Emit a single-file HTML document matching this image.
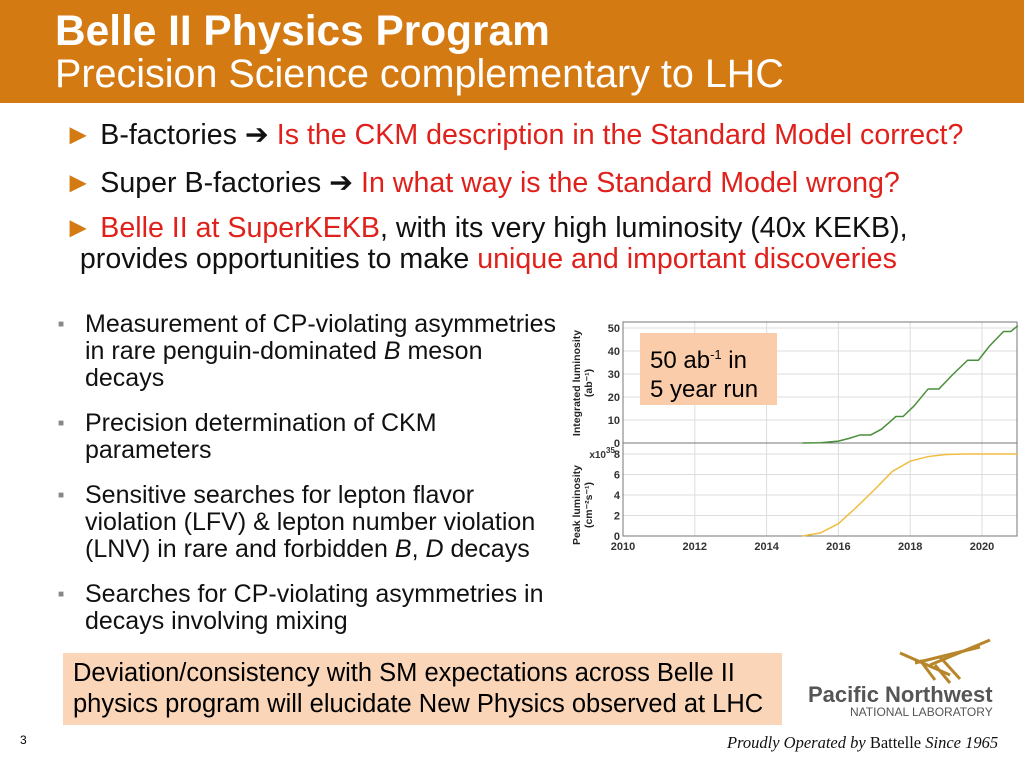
<!DOCTYPE html>
<html><head><meta charset="utf-8"><style>
body{margin:0;width:1024px;height:768px;position:relative;overflow:hidden;background:#fff;font-family:"Liberation Sans",sans-serif}
.abs{position:absolute}
.red{color:#e0201b}
.sb{position:absolute;left:58px;font-size:25px;color:#111;line-height:27px;width:540px;padding-left:27px;box-sizing:border-box;white-space:nowrap}
.sq{position:absolute;left:0;top:0;font-size:10px;color:#888}
</style></head><body>
<div class="abs" style="left:0;top:0;width:1024px;height:103px;background:#d47a12"></div>
<div class="abs" style="left:55px;top:7px;color:#fff;font-weight:bold;font-size:42.4px">Belle II Physics Program</div>
<div class="abs" style="left:55px;top:52px;color:#fff;font-size:39.5px">Precision Science complementary to LHC</div>
<div class="abs" style="left:64px;top:117px;font-size:28.6px;color:#111;white-space:nowrap"><span style="color:#d47a12">►</span> B-factories ➔ <span class="red">Is the CKM description in the Standard Model correct?</span></div>
<div class="abs" style="left:64px;top:165px;font-size:28.6px;color:#111;white-space:nowrap"><span style="color:#d47a12">►</span> Super B-factories ➔ <span class="red">In what way is the Standard Model wrong?</span></div>
<div class="abs" style="left:64px;top:213px;font-size:28.6px;color:#111;line-height:31px;white-space:nowrap"><span style="color:#d47a12">►</span> <span class="red">Belle II at SuperKEKB</span>, with its very high luminosity (40x KEKB),<br>&nbsp;&nbsp;provides opportunities to make <span class="red">unique and important discoveries</span></div>
<div class="sb" style="top:311px"><span class="sq">■</span>Measurement of CP-violating asymmetries<br>in rare penguin-dominated <i>B</i> meson<br>decays</div>
<div class="sb" style="top:410px"><span class="sq">■</span>Precision determination of CKM<br>parameters</div>
<div class="sb" style="top:482px"><span class="sq">■</span>Sensitive searches for lepton flavor<br>violation (LFV) &amp; lepton number violation<br>(LNV) in rare and forbidden <i>B</i>, <i>D</i> decays</div>
<div class="sb" style="top:581px"><span class="sq">■</span>Searches for CP-violating asymmetries in<br>decays involving mixing</div>
<svg class="abs" style="left:560px;top:305px" width="464" height="260" id="chart"></svg>
<div class="abs" style="left:640px;top:333px;width:137px;height:72px;background:#fbcca9;font-size:24px;line-height:29px;padding:7px 0 0 10px;box-sizing:border-box">50 ab<sup style="font-size:13px">-1</sup> in<br>5 year run</div>
<div class="abs" style="left:63px;top:653px;width:719px;height:72px;background:#fbd5b8;font-size:25.5px;line-height:31px;padding:5px 0 0 10px;box-sizing:border-box;white-space:nowrap">Deviation/consistency with SM expectations across Belle II<br>physics program will elucidate New Physics observed at LHC</div>
<div class="abs" style="left:20px;top:733px;font-size:12px">3</div>
<svg class="abs" style="left:890px;top:635px" width="110" height="50"><g stroke="#b8862a" stroke-width="3" fill="none"><path d="M10 18 L60 40"/><path d="M40 30 L100 5"/><path d="M30 25 L45 45"/><path d="M45 30 L60 48"/><path d="M50 22 L70 44"/><path d="M25 28 L90 12"/></g></svg>
<div class="abs" style="left:808px;top:682px;font-size:22px;font-weight:bold;color:#555">Pacific Northwest</div>
<div class="abs" style="left:850px;top:705px;font-size:12px;color:#555">NATIONAL LABORATORY</div>
<div class="abs" style="left:727px;top:733px;font-family:'Liberation Serif',serif;font-size:16.5px;color:#111"><i>Proudly Operated by</i> Battelle <i>Since 1965</i></div>
<script>
const years=[2010,2012,2014,2016,2018,2020];
const intTicks=[0,10,20,30,40,50];
const peakTicks=[0,2,4,6,8];
const intX=[2015,2015.5,2016,2016.3,2016.6,2016.9,2017.2,2017.6,2017.8,2018.1,2018.5,2018.8,2019.2,2019.6,2019.9,2020.2,2020.6,2020.8,2021];
const intY=[0,0.1,0.8,2,3.5,3.5,6,11.5,11.5,16,23.5,23.5,30,36,36,42,48.5,48.5,51];
const peakX=[2015,2015.5,2016,2016.5,2017,2017.5,2018,2018.5,2019,2019.5,2020,2021];
const peakY=[0,0.3,1.2,2.8,4.5,6.3,7.3,7.75,7.95,8,8,8];
const svg=document.getElementById('chart');const NS='http://www.w3.org/2000/svg';
function mk(t,a,txt){const e=document.createElementNS(NS,t);for(const k in a)e.setAttribute(k,a[k]);if(txt!=null)e.textContent=txt;svg.appendChild(e);return e;}
const x=v=>63+(v-2010)*35.9;
const yI=v=>138-v*2.3;
const yP=v=>231-v*10.25;
const L=63,R=457;
let e=mk('rect',{x:2,y:0,width:460,height:258,fill:'#fff'});

for(const yr of years){e=mk('line',{x1:x(yr),x2:x(yr),y1:17,y2:231,stroke:'#ddd'});
e=mk('text',{x:x(yr),y:245,'text-anchor':'middle','font-size':11,'font-weight':'bold',fill:'#333'},yr);}
for(const t of intTicks){e=mk('line',{x1:L,x2:R,y1:yI(t),y2:yI(t),stroke:'#ddd'});
e=mk('text',{x:L-3,y:yI(t)+4,'text-anchor':'end','font-size':11,'font-weight':'bold',fill:'#333'},t);}
for(const t of peakTicks){e=mk('line',{x1:L,x2:R,y1:yP(t),y2:yP(t),stroke:'#ddd'});
e=mk('text',{x:L-3,y:yP(t)+4,'text-anchor':'end','font-size':11,'font-weight':'bold',fill:'#333'},t);}
e=mk('rect',{x:L,y:17,width:R-L,height:121,fill:'none',stroke:'#777'});
e=mk('rect',{x:L,y:138,width:R-L,height:93,fill:'none',stroke:'#777'});
e=mk('text',{x:L-17,y:153,'text-anchor':'end','font-size':10,'font-weight':'bold',fill:'#333'},'x10');
e=mk('text',{x:L-17,y:148,'font-size':8,'font-weight':'bold',fill:'#333'},'35');
e=mk('polyline',{points:intX.map((v,i)=>x(v)+','+yI(intY[i])).join(' '),fill:'none',stroke:'#4a8f3c','stroke-width':1.5});
e=mk('polyline',{points:peakX.map((v,i)=>x(v)+','+yP(peakY[i])).join(' '),fill:'none',stroke:'#f0bd40','stroke-width':1.5});
e=mk('text',{transform:'translate(20,78) rotate(-90)','text-anchor':'middle','font-size':10.5,'font-weight':'bold',fill:'#222'},'Integrated luminosity');
e=mk('text',{transform:'translate(32,78) rotate(-90)','text-anchor':'middle','font-size':10.5,'font-weight':'bold',fill:'#222'},'(ab⁻¹)');
e=mk('text',{transform:'translate(20,200) rotate(-90)','text-anchor':'middle','font-size':10.5,'font-weight':'bold',fill:'#222'},'Peak luminosity');
e=mk('text',{transform:'translate(32,200) rotate(-90)','text-anchor':'middle','font-size':10.5,'font-weight':'bold',fill:'#222'},'(cm⁻²s⁻¹)');
</script>
</body></html>
